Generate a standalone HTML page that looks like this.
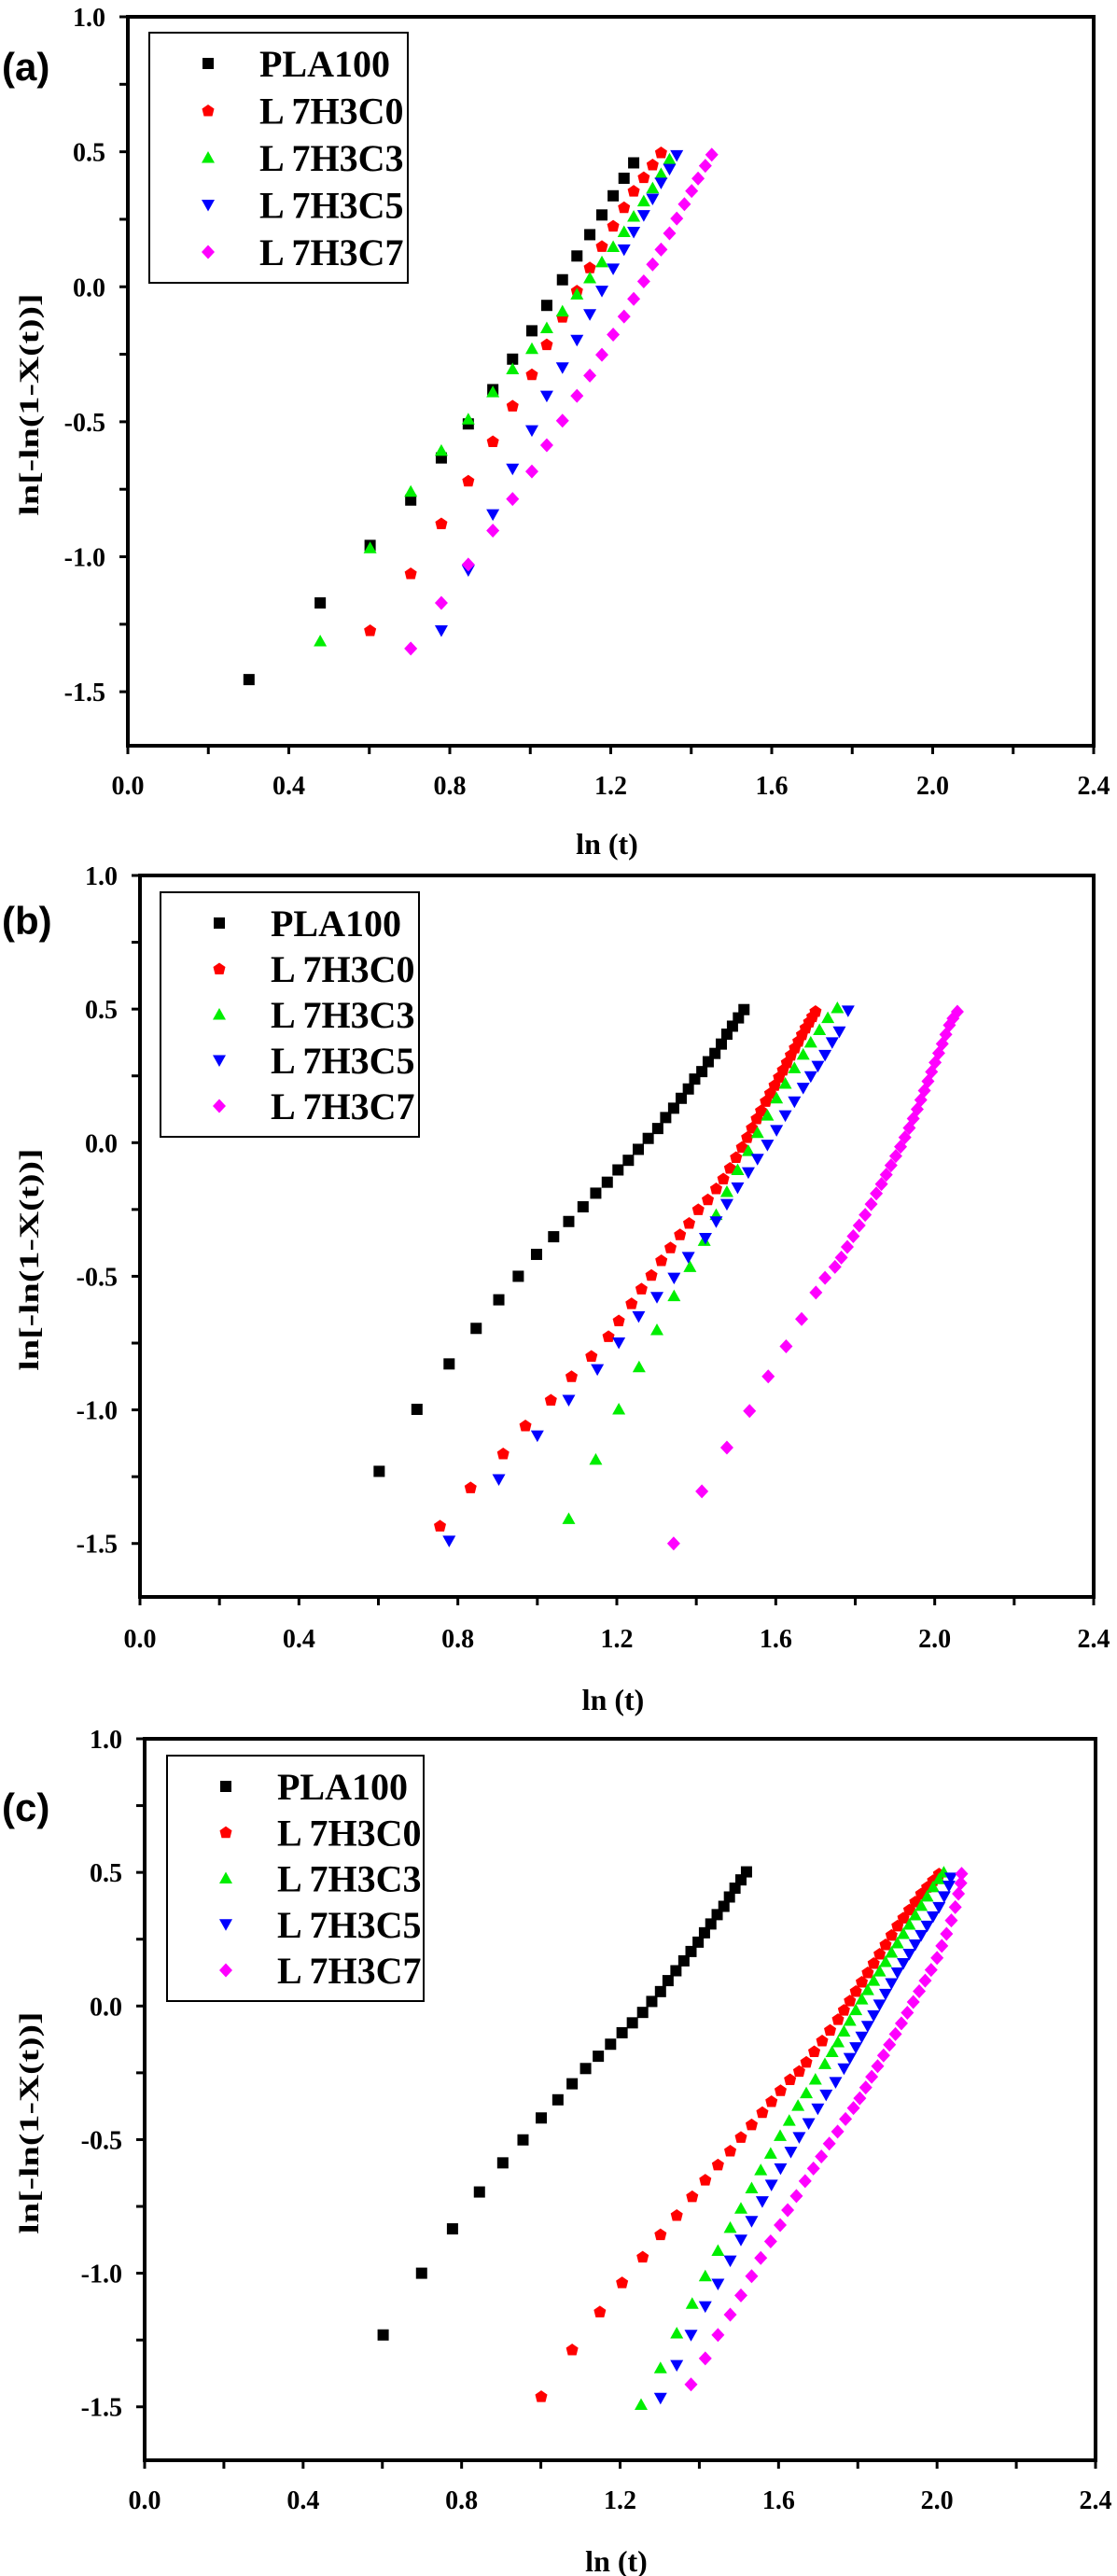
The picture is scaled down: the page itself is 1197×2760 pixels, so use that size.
<!DOCTYPE html>
<html><head><meta charset="utf-8"><style>
html,body{margin:0;padding:0;background:#fff;}
svg{display:block;}
text{font-family:"Liberation Serif",serif;font-weight:bold;fill:#000;}
.lab{font-family:"Liberation Sans","DejaVu Sans",sans-serif;}
</style></head><body>
<svg id="fig" width="1197" height="2760" viewBox="0 0 1197 2760" xmlns="http://www.w3.org/2000/svg"></svg>
<script>
const seriesNames = ["PLA100","L 7H3C0","L 7H3C3","L 7H3C5","L 7H3C7"];
const xTicks = [0.0,0.4,0.8,1.2,1.6,2.0,2.4];
const yTicks = [1.0,0.5,0.0,-0.5,-1.0,-1.5];
const xTickLabels = ["0.0","0.4","0.8","1.2","1.6","2.0","2.4"];
const yTickLabels = ["1.0","0.5","0.0","-0.5","-1.0","-1.5"];

// Panel (a)
const aPLAx=[0.301,0.478,0.602,0.703,0.779,0.846,0.907,0.956,1.004,1.041,1.080,1.116,1.148,1.178,1.206,1.233,1.257];
const aPLAy=[-1.455,-1.171,-0.958,-0.790,-0.634,-0.508,-0.381,-0.268,-0.163,-0.069,0.026,0.114,0.193,0.266,0.337,0.402,0.459];
const aC0x=[0.602,0.703,0.779,0.846,0.907,0.956,1.004,1.041,1.080,1.116,1.148,1.178,1.206,1.233,1.257,1.282,1.304,1.325];
const aC0y=[-1.273,-1.062,-0.877,-0.719,-0.573,-0.441,-0.325,-0.214,-0.112,-0.015,0.071,0.150,0.225,0.294,0.355,0.405,0.452,0.497];
const aC3x=[0.478,0.602,0.703,0.779,0.846,0.907,0.956,1.004,1.041,1.080,1.116,1.148,1.178,1.206,1.233,1.257,1.282,1.304,1.325,1.346];
const aC3y=[-1.313,-0.968,-0.759,-0.607,-0.491,-0.390,-0.305,-0.230,-0.153,-0.091,-0.028,0.032,0.091,0.148,0.203,0.260,0.317,0.365,0.418,0.472];
const aC5x=[0.779,0.846,0.907,0.956,1.004,1.041,1.080,1.116,1.148,1.178,1.206,1.233,1.257,1.282,1.304,1.325,1.346,1.364];
const aC5y=[-1.273,-1.050,-0.843,-0.674,-0.532,-0.404,-0.299,-0.197,-0.102,-0.015,0.067,0.138,0.203,0.265,0.326,0.385,0.436,0.487];
const aC7x=[0.703,0.779,0.846,0.907,0.956,1.004,1.041,1.080,1.116,1.148,1.178,1.206,1.233,1.257,1.282,1.304,1.325,1.346,1.364,1.383,1.401,1.417,1.435,1.451];
const aC7y=[-1.340,-1.171,-1.029,-0.903,-0.786,-0.684,-0.587,-0.496,-0.404,-0.329,-0.252,-0.177,-0.110,-0.045,0.020,0.083,0.138,0.198,0.253,0.306,0.355,0.401,0.448,0.489];

// Panel (b)
const bPLAx=[0.602,0.697,0.778,0.846,0.903,0.952,0.998,1.041,1.079,1.115,1.147,1.176,1.203,1.229,1.254,1.279,1.303,1.323,1.343,1.362,1.380,1.396,1.414,1.430,1.447,1.463,1.477,1.491,1.506,1.520];
const bPLAy=[-1.230,-0.998,-0.828,-0.695,-0.588,-0.500,-0.418,-0.352,-0.295,-0.240,-0.189,-0.148,-0.102,-0.066,-0.025,0.016,0.053,0.094,0.129,0.166,0.201,0.238,0.266,0.303,0.334,0.369,0.406,0.436,0.467,0.498];
const bC0x=[0.755,0.832,0.914,0.970,1.034,1.086,1.136,1.179,1.205,1.237,1.262,1.287,1.312,1.335,1.359,1.382,1.405,1.429,1.450,1.468,1.485,1.500,1.515,1.528,1.540,1.552,1.563,1.575,1.586,1.597,1.608,1.618,1.628,1.638,1.648,1.657,1.666,1.675,1.684,1.692,1.700];
const bC0y=[-1.434,-1.291,-1.164,-1.059,-0.963,-0.875,-0.799,-0.725,-0.666,-0.602,-0.547,-0.496,-0.441,-0.393,-0.344,-0.301,-0.250,-0.213,-0.172,-0.135,-0.095,-0.055,-0.017,0.020,0.055,0.090,0.120,0.155,0.185,0.215,0.245,0.272,0.300,0.328,0.355,0.380,0.405,0.430,0.452,0.472,0.492];
const bC3x=[1.079,1.147,1.205,1.256,1.301,1.344,1.384,1.420,1.450,1.477,1.504,1.531,1.554,1.579,1.602,1.624,1.647,1.669,1.688,1.710,1.731,1.755];
const bC3y=[-1.408,-1.186,-0.998,-0.840,-0.701,-0.574,-0.465,-0.367,-0.270,-0.184,-0.102,-0.031,0.037,0.102,0.166,0.221,0.279,0.330,0.375,0.422,0.467,0.504];
const bC5x=[0.778,0.903,1.000,1.079,1.151,1.205,1.255,1.301,1.344,1.380,1.423,1.450,1.477,1.504,1.531,1.554,1.579,1.602,1.624,1.647,1.669,1.688,1.706,1.724,1.742,1.760,1.782];
const bC5y=[-1.490,-1.260,-1.096,-0.963,-0.848,-0.748,-0.650,-0.578,-0.506,-0.428,-0.357,-0.295,-0.230,-0.168,-0.111,-0.061,-0.008,0.047,0.102,0.154,0.205,0.248,0.287,0.328,0.375,0.416,0.494];
const bC7x=[1.343,1.414,1.477,1.534,1.581,1.626,1.665,1.701,1.724,1.749,1.765,1.780,1.795,1.810,1.825,1.840,1.853,1.866,1.878,1.890,1.902,1.914,1.925,1.936,1.946,1.956,1.965,1.974,1.983,1.992,2.001,2.010,2.019,2.028,2.037,2.046,2.057];
const bC7y=[-1.500,-1.305,-1.141,-1.004,-0.875,-0.762,-0.660,-0.561,-0.506,-0.465,-0.430,-0.390,-0.350,-0.310,-0.270,-0.230,-0.190,-0.155,-0.120,-0.085,-0.050,-0.015,0.020,0.055,0.090,0.125,0.160,0.195,0.230,0.265,0.300,0.335,0.370,0.405,0.440,0.465,0.490];

// Panel (c)
const cPLAx=[0.602,0.699,0.777,0.845,0.904,0.955,1.001,1.043,1.079,1.113,1.145,1.176,1.205,1.231,1.257,1.280,1.302,1.321,1.341,1.361,1.379,1.397,1.413,1.429,1.445,1.462,1.476,1.490,1.505,1.519];
const cPLAy=[-1.231,-1.000,-0.834,-0.696,-0.587,-0.501,-0.419,-0.351,-0.291,-0.234,-0.188,-0.143,-0.100,-0.063,-0.024,0.017,0.054,0.095,0.132,0.169,0.204,0.239,0.274,0.307,0.342,0.373,0.408,0.441,0.472,0.502];
const cC0x=[1.001,1.079,1.149,1.205,1.257,1.302,1.343,1.382,1.415,1.447,1.478,1.505,1.532,1.559,1.582,1.605,1.629,1.652,1.670,1.690,1.710,1.730,1.750,1.765,1.780,1.795,1.810,1.825,1.840,1.855,1.870,1.885,1.900,1.915,1.930,1.945,1.960,1.975,1.990,2.005];
const cC0y=[-1.461,-1.286,-1.144,-1.035,-0.939,-0.855,-0.783,-0.713,-0.651,-0.594,-0.542,-0.491,-0.444,-0.398,-0.357,-0.316,-0.275,-0.244,-0.210,-0.170,-0.130,-0.090,-0.050,-0.015,0.020,0.055,0.090,0.125,0.160,0.195,0.230,0.265,0.300,0.330,0.360,0.390,0.420,0.445,0.470,0.495];
const cC3x=[1.253,1.302,1.343,1.382,1.415,1.447,1.478,1.505,1.532,1.555,1.580,1.604,1.627,1.649,1.670,1.693,1.717,1.735,1.750,1.765,1.780,1.795,1.810,1.825,1.840,1.855,1.870,1.885,1.900,1.915,1.930,1.945,1.960,1.975,1.990,2.005,2.017];
const cC3y=[-1.492,-1.355,-1.225,-1.114,-1.011,-0.916,-0.830,-0.758,-0.682,-0.614,-0.552,-0.486,-0.429,-0.373,-0.326,-0.275,-0.217,-0.172,-0.135,-0.095,-0.055,-0.015,0.025,0.060,0.095,0.130,0.165,0.200,0.235,0.270,0.305,0.340,0.375,0.410,0.445,0.475,0.500];
const cC5x=[1.302,1.343,1.379,1.415,1.447,1.478,1.505,1.532,1.559,1.582,1.605,1.631,1.652,1.676,1.699,1.720,1.744,1.765,1.780,1.795,1.810,1.825,1.840,1.855,1.870,1.885,1.900,1.915,1.930,1.945,1.960,1.975,1.990,2.005,2.018,2.030,2.035];
const cC5y=[-1.467,-1.344,-1.231,-1.124,-1.040,-0.953,-0.875,-0.805,-0.731,-0.669,-0.608,-0.546,-0.491,-0.439,-0.384,-0.332,-0.285,-0.234,-0.195,-0.155,-0.115,-0.075,-0.035,0.005,0.045,0.085,0.125,0.160,0.195,0.230,0.265,0.300,0.335,0.370,0.410,0.450,0.480];
const cC7x=[1.379,1.415,1.447,1.478,1.505,1.532,1.555,1.580,1.604,1.623,1.645,1.667,1.688,1.708,1.728,1.749,1.769,1.789,1.805,1.820,1.835,1.850,1.865,1.880,1.895,1.910,1.925,1.940,1.955,1.970,1.985,2.000,2.012,2.024,2.036,2.046,2.054,2.060,2.062];
const cC7y=[-1.416,-1.319,-1.231,-1.155,-1.083,-1.011,-0.943,-0.881,-0.820,-0.764,-0.711,-0.655,-0.608,-0.563,-0.515,-0.470,-0.423,-0.382,-0.345,-0.305,-0.265,-0.225,-0.185,-0.145,-0.105,-0.065,-0.025,0.015,0.055,0.095,0.135,0.180,0.225,0.270,0.320,0.370,0.420,0.460,0.495];

const colors=["#000000","#ff0000","#00ee00","#0000ff","#ff00ff"];
const shapes=["square","pent","tri","tridown","diamond"];
const NS="http://www.w3.org/2000/svg";
const svg=document.getElementById('fig');
function mk(tag,attrs,parent){const e=document.createElementNS(NS,tag);for(const k in attrs)e.setAttribute(k,attrs[k]);(parent||svg).appendChild(e);return e;}

function marker(g,shape,cx,cy,color){
  let e;
  if(shape==="square") e=mk('rect',{x:cx-6,y:cy-6,width:12,height:12,fill:color},g);
  else if(shape==="pent") e=mk('polygon',{points:`${cx},${cy-6.5} ${cx+6.5},${cy-2} ${cx+4.5},${cy+6} ${cx-4.5},${cy+6} ${cx-6.5},${cy-2}`,fill:color},g);
  else if(shape==="tri") e=mk('polygon',{points:`${cx},${cy-7} ${cx+7},${cy+5.5} ${cx-7},${cy+5.5}`,fill:color},g);
  else if(shape==="tridown") e=mk('polygon',{points:`${cx-7},${cy-5.5} ${cx+7},${cy-5.5} ${cx},${cy+7}`,fill:color},g);
  else e=mk('polygon',{points:`${cx},${cy-7.5} ${cx+7},${cy} ${cx},${cy+7.5} ${cx-7},${cy}`,fill:color},g);
  return e;
}

const panels=[
 {id:'a',label:'(a)',L:137,R:1172,T:18,B:799,labelY:86,legend:[160,437,35,303],tickY:851,titleY:915,series:[[aPLAx,aPLAy],[aC0x,aC0y],[aC3x,aC3y],[aC5x,aC5y],[aC7x,aC7y]]},
 {id:'b',label:'(b)',L:150,R:1172,T:938,B:1711,labelY:1001,legend:[172,449,956,1218],tickY:1765,titleY:1832,series:[[bPLAx,bPLAy],[bC0x,bC0y],[bC3x,bC3y],[bC5x,bC5y],[bC7x,bC7y]]},
 {id:'c',label:'(c)',L:155,R:1174,T:1863,B:2636,labelY:1951,legend:[179,454,1881,2144],tickY:2688,titleY:2755,series:[[cPLAx,cPLAy],[cC0x,cC0y],[cC3x,cC3y],[cC5x,cC5y],[cC7x,cC7y]]}
];

panels.forEach(p=>{
  const g=mk('g',{});
  
  
  const xs=v=>p.L+(v-0)/(2.4-0)*(p.R-p.L);
  const ys=v=>p.T+(1.0-v)/(1.0-(-1.7))*(p.B-p.T);
  // ticks
  for(let v=0;v<=2.4001;v+=0.2){
    const t=mk('line',{x1:xs(v),x2:xs(v),y1:p.B,y2:p.B+9,stroke:'#000','stroke-width':3},g);
    
    
  }
  for(let v=-1.5;v<=1.0001;v+=0.25){
    const t=mk('line',{x1:p.L-9,x2:p.L,y1:ys(v),y2:ys(v),stroke:'#000','stroke-width':3},g);
    
    
  }
  const fr=mk('rect',{x:p.L,y:p.T,width:p.R-p.L,height:p.B-p.T,fill:'none',stroke:'#000','stroke-width':4},g);
  
  
  xTicks.forEach((v,i)=>{
    const t=mk('text',{x:xs(v),y:p.tickY,'text-anchor':'middle','font-size':28},g);
    t.textContent=xTickLabels[i];
    
    
  });
  yTicks.forEach((v,i)=>{
    const t=mk('text',{x:p.L-24,y:ys(v)+10,'text-anchor':'end','font-size':28},g);
    t.textContent=yTickLabels[i];
    
    
  });
  const xt=mk('text',{x:(p.L+p.R)/2-4,y:p.titleY,'text-anchor':'middle','font-size':32},g);
  xt.textContent='ln (t)';
  
  
  const cy=(p.T+p.B)/2+25;
  const yt=mk('text',{x:30,y:cy,'text-anchor':'middle','font-size':30,transform:`rotate(-90 30 ${cy}) translate(0 11)`,textLength:238,lengthAdjust:'spacingAndGlyphs'},g);
  yt.textContent='ln[-ln(1-X(t))]';
  
  
  const pl=mk('text',{x:2,y:p.labelY,'font-size':42,'class':'lab'},g);
  pl.textContent=p.label;
  
  
  // series
  p.series.forEach((s,si)=>{
    const sg=mk('g',{},g);
    
    
    s[0].forEach((xv,k)=>{
      const m=marker(sg,shapes[si],xs(xv),ys(s[1][k]),colors[si]);
      
      
    });
  });
  // legend
  const [lx1,lx2,ly1,ly2]=p.legend;
  const lg=mk('g',{},g);
  
  
  mk('rect',{x:lx1,y:ly1,width:lx2-lx1,height:ly2-ly1,fill:'#fff',stroke:'#000','stroke-width':2},lg);
  const step=(ly2-ly1-66)/4;
  seriesNames.forEach((n,i)=>{
    const yy=ly1+33+i*step;
    const e=mk('g',{},lg);
    
    
    marker(e,shapes[i],lx1+63,yy,colors[i]);
    const t=mk('text',{x:lx1+118,y:yy+14,'font-size':40},e);
    t.textContent=n;
  });
});
</script>
</body></html>
